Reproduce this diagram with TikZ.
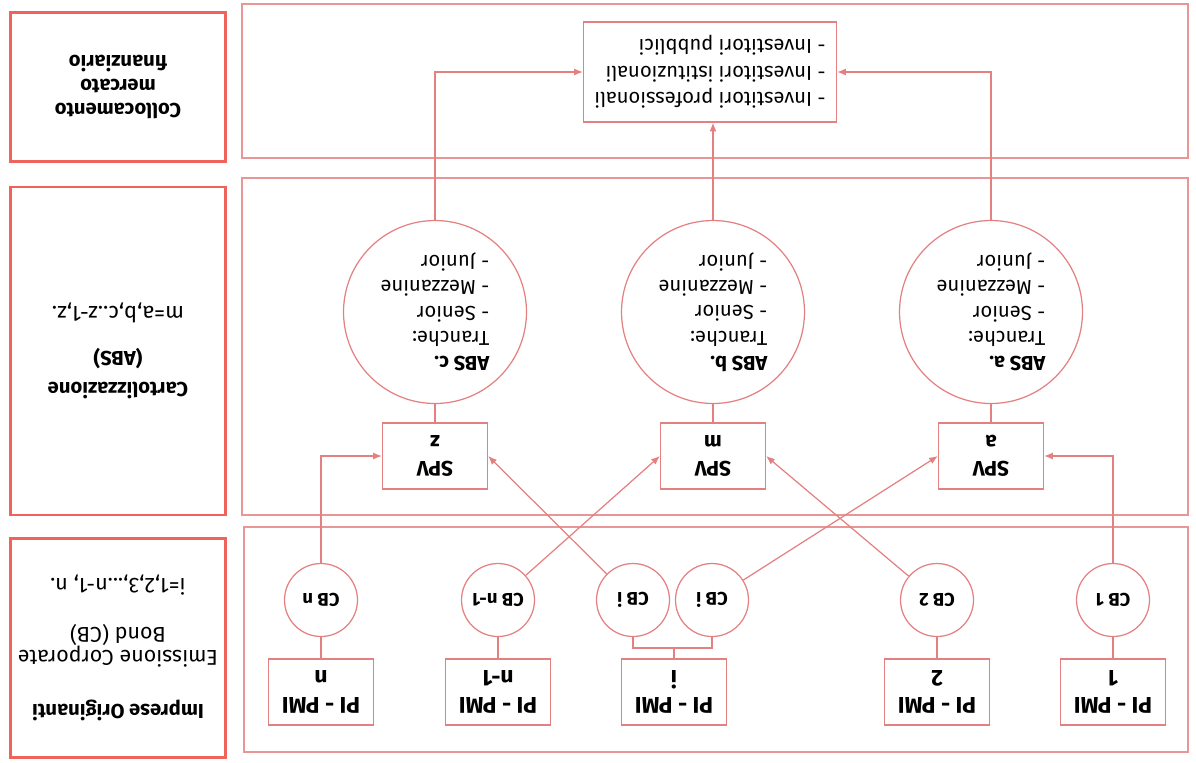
\documentclass[tikz,border=0pt]{standalone}
\usepackage{fontspec}
\setmainfont{Fira Sans}
\usepackage{tikz}
\usetikzlibrary{arrows.meta}
\tikzset{
  labbox/.style ={draw=labred, line width=1.6pt, align=center,
                  minimum width=4.3cm, inner sep=0pt,
                  font=\fontsize{11.5}{13.5}\selectfont},
  frame/.style  ={draw=framered, line width=0.7pt},
  pibox/.style  ={draw=linered, line width=0.7pt, align=center,
                  minimum width=2.1cm, minimum height=1.32cm,
                  font=\bfseries\fontsize{13}{15}\selectfont},
  spvbox/.style ={pibox, font=\bfseries\fontsize{12}{15}\selectfont},
  cbnode/.style ={draw=linered, line width=0.7pt, circle,
                  minimum size=1.46cm, inner sep=0pt,
                  font=\bfseries\fontsize{10.5}{12}\selectfont},
  absnode/.style={draw=linered, line width=0.7pt, circle,
                  minimum size=3.66cm, inner sep=0pt, align=left,
                  font=\fontsize{11.5}{14.4}\selectfont},
  invbox/.style ={draw=linered, line width=0.7pt, align=left,
                  minimum width=5.06cm, minimum height=2cm,
                  font=\fontsize{11.5}{15}\selectfont},
  link/.style   ={draw=linered, line width=0.7pt},
  arr/.style    ={link, -{Latex[length=5pt,width=4pt]}},
}
\definecolor{labred}  {RGB}{238,100,90}
\definecolor{linered} {RGB}{228,128,128}
\definecolor{framered}{RGB}{232,150,150}
\newcommand{\bigreg}{\fontsize{12.2}{14.2}\selectfont}

\begin{document}
\begin{tikzpicture}[x=0.02cm, y=-0.02cm]
  \useasboundingbox (0,0) rectangle (1196,762);
  \begin{scope}[rotate around={180:(598,381)}, transform shape]
  % row frames
  \draw[frame] (8,10) rectangle (952,235);
  \draw[frame] (8,247) rectangle (954,584);
  \draw[frame] (8,604) rectangle (954,758);
  % label column
  \node[labbox, minimum height=4.38cm] (lorig) at (1078,114)
    {\textbf{Imprese Originanti}\\[17pt]{\bigreg Emissione Corporate}\\{\bigreg Bond (CB)}\\[14pt]{\bigreg i=1,2,3,...n-1, n.}};
  \node[labbox, minimum height=6.56cm] (lcart) at (1078,411)
    {\textbf{Cartolizzazione}\\[4pt]\textbf{(ABS)}\\[12pt]{\fontsize{12.5}{14}\selectfont m=a,b,c..z-1,z.}};
  \node[labbox, minimum height=2.98cm] (lcoll) at (1078,675)
    {\textbf{Collocamento}\\\textbf{mercato}\\\textbf{finanziario}};
  % originators and bonds
  \node[pibox] (pi1)  at (83,70)  {PI - PMI\\1};
  \node[pibox] (pi2)  at (259,70) {PI - PMI\\2};
  \node[pibox] (pii)  at (522,70) {PI - PMI\\i};
  \node[pibox] (pin1) at (698,70) {PI - PMI\\n-1};
  \node[pibox] (pin)  at (875,70) {PI - PMI\\n};
  \node[cbnode] (cb1)  at (83,162)  {CB 1};
  \node[cbnode] (cb2)  at (259,162) {CB 2};
  \node[cbnode] (cbia) at (484,162) {CB i};
  \node[cbnode] (cbib) at (563,162) {CB i};
  \node[cbnode] (cbn1) at (698,162) {CB n-1};
  \node[cbnode] (cbn)  at (875,162) {CB n};
  \coordinate (fork) at (522,114);
  % vehicles and tranches
  \node[spvbox] (spva) at (205,306) {SPV\\a};
  \node[spvbox] (spvm) at (483,306) {SPV\\m};
  \node[spvbox] (spvz) at (761,306) {SPV\\z};
  \node[absnode] (absa) at (205,450)
    {\textbf{ABS a.}\\Tranche:\\- Senior\\- Mezzanine\\- Junior};
  \node[absnode] (absb) at (483,450)
    {\textbf{ABS b.}\\Tranche:\\- Senior\\- Mezzanine\\- Junior};
  \node[absnode] (absc) at (761,450)
    {\textbf{ABS c.}\\Tranche:\\- Senior\\- Mezzanine\\- Junior};
  % investors
  \node[invbox] (inv) at (486,690)
    {- Investitori professionali\\- Investitori istituzionali\\- Investitori pubblici};
  \draw[link] (pi1) -- (cb1);
  \draw[link] (pi2) -- (cb2);
  \draw[link] (pin1) -- (cbn1);
  \draw[link] (pin) -- (cbn);
  \draw[link] (pii) -- (fork);
  \draw[link] (cbia.north) |- (fork) -| (cbib.north);
  \draw[arr] (cb1) |- (spva);
  \draw[arr] (cbn) |- (spvz);
  \draw[arr] (cb2) -- (spvm.west);
  \draw[arr] (cbia) -- (spva.east);
  \draw[arr] (cbib) -- (spvz.west);
  \draw[arr] (cbn1) -- (spvm.east);
  \draw[link] (spva) -- (absa);
  \draw[link] (spvm) -- (absb);
  \draw[link] (spvz) -- (absc);
  \draw[arr] (absa) |- (inv.west);
  \draw[arr] (absc) |- (inv.east);
  \draw[arr] (absb.south) -- (absb.south |- inv.north);
  \end{scope}
\end{tikzpicture}
\end{document}
